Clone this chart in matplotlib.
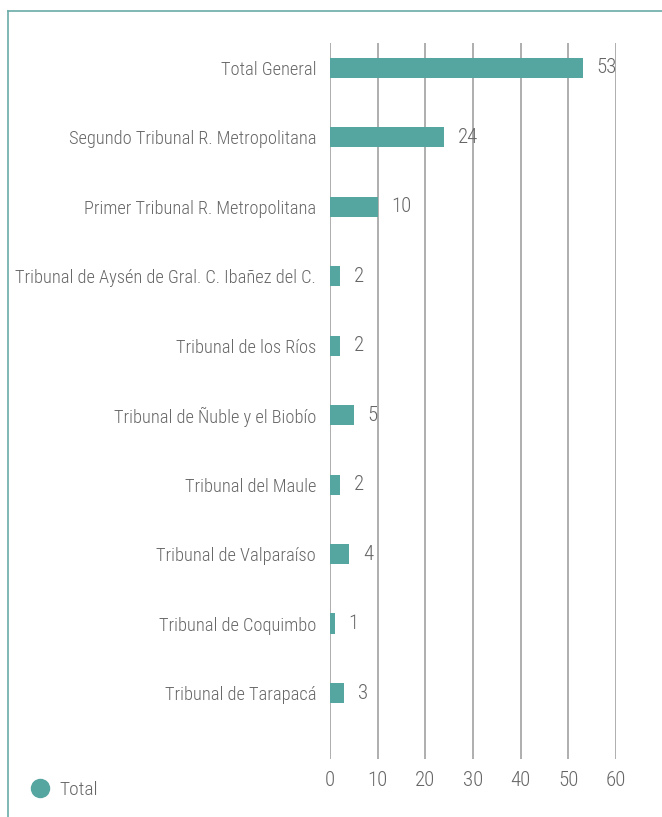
import matplotlib
matplotlib.use("Agg")
import matplotlib.pyplot as plt
from matplotlib.lines import Line2D

categories = [
    "Total General",
    "Segundo Tribunal R. Metropolitana",
    "Primer Tribunal R. Metropolitana",
    "Tribunal de Aysén de Gral. C. Ibañez del C.",
    "Tribunal de los Ríos",
    "Tribunal de Ñuble y el Biobío",
    "Tribunal del Maule",
    "Tribunal de Valparaíso",
    "Tribunal de Coquimbo",
    "Tribunal de Tarapacá",
]
values = [53, 24, 10, 2, 2, 5, 2, 4, 1, 3]
x_ticks = [0, 10, 20, 30, 40, 50, 60]
series_name = "Total"

bar_color = "#55a5a0"
text_color = "#666666"
grid_color = "#a8a8a8"
frame_color = "#6aaca8"

plt.rcParams["font.family"] = ["Roboto Condensed", "Roboto", "DejaVu Sans"]
plt.rcParams["font.weight"] = 300

fig = plt.figure(figsize=(6.62, 8.17), dpi=100)
ax = fig.add_axes([0.4985, 0.0710, 0.432, 0.8764])

pos = list(range(len(categories)))
ax.barh(pos, values, height=0.29, color=bar_color, zorder=3)
for p, v in zip(pos, values):
    ax.annotate(str(v), (v, p), xytext=(10, 0), textcoords="offset points",
                va="center", ha="left", fontsize=15, color=text_color)

ax.set_xlim(0, 60)
ax.set_ylim(9.95, -0.36)
ax.set_xticks(x_ticks)
ax.set_xticklabels([str(t) for t in x_ticks])
ax.set_yticks(pos)
ax.set_yticklabels(categories)
ax.tick_params(axis="both", length=0, colors=text_color)
ax.tick_params(axis="x", pad=9, labelsize=15)
ax.tick_params(axis="y", pad=10, labelsize=13.2)
ax.grid(axis="x", color=grid_color, linewidth=1.3, zorder=0)
for s in ax.spines.values():
    s.set_visible(False)

# legend
fig.legend(handles=[Line2D([], [], marker="o", linestyle="", markersize=13,
                           color=bar_color, label=series_name)],
           loc="lower left", bbox_to_anchor=(0.005, 0.001), frameon=False,
           fontsize=14, labelcolor=text_color, handletextpad=0.0)

# frame lines at top and left
fig.add_artist(Line2D([0.012, 0.012], [0, 0.9865], transform=fig.transFigure,
                      color=frame_color, linewidth=1.2))
fig.add_artist(Line2D([0.012, 1.0], [0.9865, 0.9865], transform=fig.transFigure,
                      color=frame_color, linewidth=1.2))

fig.savefig("out.png", dpi=100)
